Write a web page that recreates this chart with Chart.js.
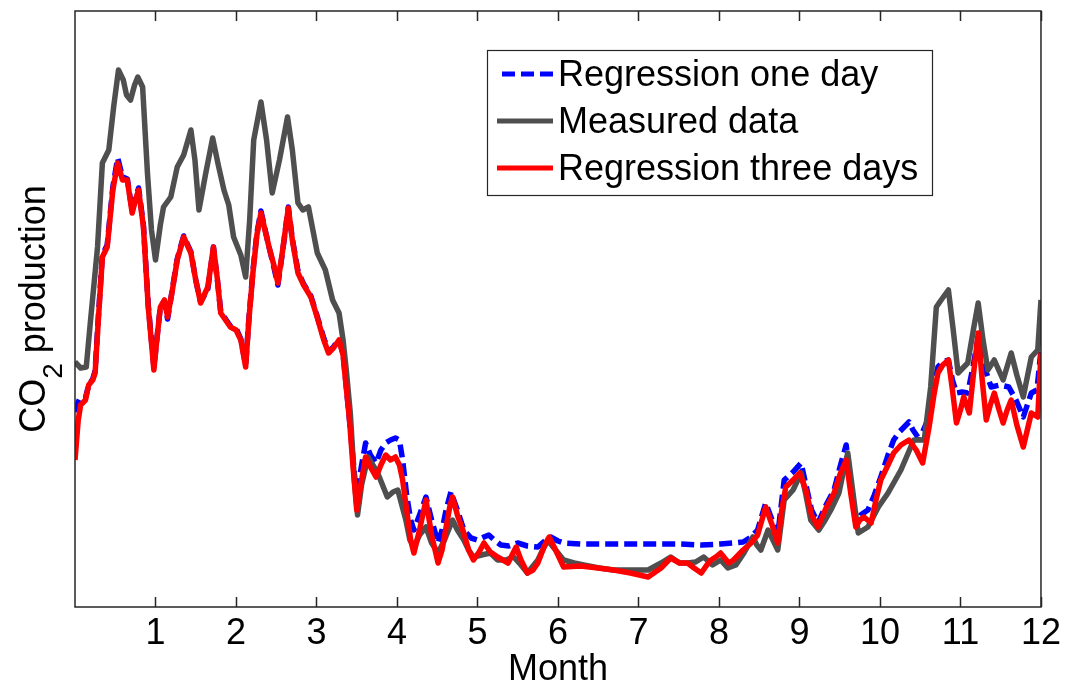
<!DOCTYPE html>
<html>
<head>
<meta charset="utf-8">
<script src="https://cdn.jsdelivr.net/npm/chart.js@4.4.1/dist/chart.umd.min.js"></script>
<style>
html,body{margin:0;padding:0;background:#fff;}
canvas{display:block;}
</style>
</head>
<body>
<canvas id="c" width="1066" height="688"></canvas>
<script>
// ---- data (x in months, y in arbitrary CO2 units) ----
const monthTicks = [1,2,3,4,5,6,7,8,9,10,11,12];
const monthTickLabels = ['1','2','3','4','5','6','7','8','9','10','11','12'];
const seriesLabels = ['Regression one day','Measured data','Regression three days'];

const oneDayMonths = [0,0.04,0.07,0.13,0.17,0.22,0.25,0.29,0.34,0.40,0.47,0.53,0.59,0.65,0.71,0.75,0.79,0.85,0.91,0.98,1.01,1.06,1.11,1.15,1.21,1.27,1.35,1.44,1.50,1.56,1.65,1.72,1.77,1.81,1.87,1.93,2.00,2.06,2.12,2.16,2.21,2.26,2.31,2.36,2.41,2.47,2.52,2.58,2.65,2.70,2.77,2.84,2.93,3.00,3.09,3.15,3.21,3.28,3.33,3.36,3.41,3.45,3.50,3.55,3.61,3.67,3.74,3.80,3.86,3.92,3.98,4.03,4.07,4.12,4.17,4.21,4.28,4.36,4.43,4.51,4.56,4.61,4.67,4.75,4.83,4.92,5.00,5.08,5.14,5.21,5.29,5.39,5.50,5.62,5.75,5.82,5.91,6.00,6.07,6.28,6.53,6.78,7.03,7.28,7.53,7.78,8.02,8.18,8.30,8.40,8.48,8.58,8.66,8.73,8.81,8.92,9.02,9.08,9.15,9.23,9.33,9.43,9.50,9.58,9.64,9.70,9.76,9.85,9.93,10.01,10.10,10.17,10.24,10.30,10.36,10.41,10.47,10.53,10.61,10.67,10.72,10.78,10.85,10.90,10.95,11.02,11.09,11.16,11.22,11.29,11.38,11.49,11.60,11.69,11.78,11.83,11.88,11.95,12.00];
const oneDayValues = [195,205,210,209,222,228,236,290,352,362,420,449,430,428,396,408,419,382,302,240,263,300,306,288,318,348,371,355,327,305,318,360,326,296,288,281,279,268,242,288,336,374,396,378,360,340,322,356,400,368,336,323,311,293,269,256,260,268,253,229,187,152,107,137,164,152,144,157,164,167,169,167,147,112,87,77,92,110,87,64,77,97,115,97,77,69,67,70,72,67,62,61,64,61,60,65,70,66,64,63,63,63,63,63,63,62,63,64,65,70,77,104,87,72,127,135,144,122,97,84,102,117,139,162,122,84,92,97,112,130,152,167,175,180,185,177,170,175,190,222,240,245,247,227,214,215,214,242,270,242,220,222,220,207,190,202,214,217,257];

const measuredMonths = [0,0.07,0.14,0.19,0.28,0.34,0.42,0.48,0.54,0.60,0.64,0.69,0.74,0.78,0.84,0.90,0.95,1.00,1.06,1.10,1.19,1.27,1.35,1.44,1.49,1.54,1.62,1.71,1.78,1.85,1.91,1.97,2.06,2.12,2.17,2.22,2.31,2.38,2.45,2.54,2.64,2.70,2.77,2.83,2.90,3.01,3.11,3.20,3.28,3.33,3.37,3.42,3.47,3.51,3.56,3.64,3.70,3.76,3.82,3.88,3.95,4.01,4.06,4.11,4.16,4.21,4.28,4.36,4.43,4.51,4.59,4.69,4.75,4.83,4.89,4.95,5.05,5.16,5.25,5.35,5.45,5.54,5.62,5.75,5.87,5.97,6.07,6.20,6.32,6.51,6.69,6.90,7.12,7.28,7.40,7.51,7.61,7.71,7.81,7.92,8.02,8.11,8.21,8.31,8.42,8.47,8.52,8.61,8.67,8.73,8.81,8.92,9.02,9.08,9.14,9.24,9.32,9.39,9.49,9.55,9.60,9.66,9.73,9.79,9.85,9.98,10.10,10.26,10.42,10.55,10.63,10.70,10.76,10.85,10.91,10.97,11.03,11.09,11.16,11.22,11.28,11.34,11.42,11.53,11.63,11.70,11.78,11.88,11.96,12.00];
const measuredValues = [245,239,240,284,360,444,457,500,537,527,512,507,522,530,520,434,377,347,382,400,410,440,452,477,447,397,432,469,442,417,402,370,352,330,387,467,505,467,414,447,490,457,404,397,400,354,337,307,294,267,237,194,127,92,122,150,142,134,122,110,115,117,102,87,67,60,72,80,64,54,67,87,77,67,57,50,52,54,47,47,50,42,34,47,67,57,47,44,42,39,37,37,37,44,50,44,44,45,50,42,47,39,42,54,70,62,57,77,67,57,107,117,134,112,87,77,87,97,114,137,154,117,74,77,80,100,114,137,167,167,220,300,307,317,277,234,239,244,277,304,267,237,247,227,254,232,210,250,257,307];

const threeDayMonths = [0,0.04,0.07,0.13,0.17,0.22,0.25,0.29,0.34,0.40,0.47,0.53,0.59,0.65,0.71,0.75,0.79,0.85,0.91,0.98,1.01,1.06,1.11,1.15,1.21,1.27,1.35,1.44,1.50,1.56,1.65,1.72,1.77,1.81,1.87,1.93,2.00,2.06,2.12,2.16,2.21,2.26,2.31,2.36,2.41,2.47,2.52,2.58,2.65,2.70,2.77,2.84,2.93,3.00,3.09,3.15,3.21,3.28,3.33,3.36,3.41,3.45,3.50,3.55,3.61,3.67,3.74,3.80,3.86,3.92,3.98,4.03,4.07,4.12,4.17,4.21,4.28,4.36,4.43,4.51,4.56,4.61,4.66,4.69,4.75,4.83,4.89,4.95,5.02,5.08,5.16,5.25,5.38,5.43,5.48,5.54,5.62,5.69,5.75,5.82,5.89,5.97,6.07,6.28,6.50,6.69,6.90,7.12,7.28,7.40,7.51,7.61,7.69,7.78,7.84,7.90,7.96,8.02,8.12,8.18,8.30,8.40,8.48,8.58,8.66,8.73,8.78,8.83,8.92,9.00,9.08,9.15,9.23,9.33,9.43,9.50,9.58,9.64,9.70,9.75,9.80,9.89,9.95,10.01,10.10,10.17,10.26,10.36,10.45,10.53,10.61,10.67,10.72,10.78,10.85,10.90,10.95,11.00,11.04,11.11,11.16,11.22,11.27,11.32,11.37,11.42,11.48,11.53,11.58,11.63,11.70,11.78,11.83,11.88,11.96,12.00];
const threeDayValues = [147,187,202,207,222,227,234,287,350,360,417,444,427,427,394,407,417,380,300,237,262,300,307,290,317,347,370,354,327,304,320,360,327,294,287,280,277,267,240,287,334,372,394,377,360,342,324,357,399,367,334,322,310,292,267,254,259,267,252,227,187,144,97,122,150,140,130,142,152,147,150,142,127,97,67,54,77,107,72,44,57,80,102,110,92,74,57,47,55,64,55,50,44,52,60,47,34,37,44,59,70,57,40,41,39,37,34,30,39,49,44,44,39,34,41,47,50,54,44,47,57,64,72,100,82,64,97,120,127,134,117,92,80,99,114,132,147,112,80,87,90,84,107,127,142,154,162,167,157,144,180,212,234,242,247,217,184,197,210,194,232,274,227,187,202,214,197,184,197,207,182,160,177,194,190,254];

const seriesColors = ['#0000ff','#4f4f4f','#ff0000'];

function pairs(xs, ys){ return xs.map((x,i)=>({x:x, y:ys[i]})); }

const FONT = '"Liberation Sans", Arial, Helvetica, sans-serif';

// frame + inward ticks (MATLAB style box)
const framePlugin = {
  id:'frame',
  afterDatasetsDraw(chart){
    const {ctx, chartArea:a, scales:{x}} = chart;
    ctx.save();
    ctx.strokeStyle = '#262626';
    ctx.lineWidth = 1.5;
    ctx.beginPath();
    ctx.rect(a.left, a.top, a.right-a.left, a.bottom-a.top);
    ctx.stroke();
    ctx.beginPath();
    monthTicks.forEach(v=>{
      const px = Math.round(x.getPixelForValue(v))+0.5;
      ctx.moveTo(px, a.bottom); ctx.lineTo(px, a.bottom-10);
      ctx.moveTo(px, a.top); ctx.lineTo(px, a.top+10);
    });
    ctx.stroke();
    ctx.restore();
  }
};

// legend box drawn inside the plot, from dataset labels/styles
const boxLegendPlugin = {
  id:'boxLegend',
  afterDraw(chart){
    const ctx = chart.ctx;
    const bx=487, by=50, bw=445, bh=145;
    ctx.save();
    ctx.fillStyle='#fff';
    ctx.fillRect(bx,by,bw,bh);
    ctx.strokeStyle='#262626';
    ctx.lineWidth=1.2;
    ctx.strokeRect(bx+0.5,by+0.5,bw,bh);
    ctx.font = '36px ' + FONT;
    ctx.textBaseline='middle';
    ctx.textAlign='left';
    chart.data.datasets.forEach((ds,i)=>{
      const y = 74 + i*47;
      ctx.strokeStyle = ds.borderColor;
      ctx.lineWidth = 5;
      ctx.setLineDash(ds.borderDash || []);
      ctx.beginPath();
      ctx.moveTo(ds.borderDash ? 502 : 497, y);
      ctx.lineTo(553, y);
      ctx.stroke();
      ctx.setLineDash([]);
      ctx.fillStyle='#000';
      ctx.fillText(ds.label, 558, y+2);
    });
    ctx.restore();
  }
};

// y-axis title with subscript
const yTitlePlugin = {
  id:'yTitle',
  afterDraw(chart){
    const ctx = chart.ctx;
    ctx.save();
    ctx.translate(45, 309);
    ctx.rotate(-Math.PI/2);
    ctx.fillStyle='#000';
    ctx.textBaseline='alphabetic';
    ctx.textAlign='left';
    const big = '36px ' + FONT, small = '28px ' + FONT;
    ctx.font = big;
    const w1 = ctx.measureText('CO').width;
    const w3 = ctx.measureText(' production').width;
    ctx.font = small;
    const w2 = ctx.measureText('2').width;
    let x = -(w1+w2+w3)/2;
    ctx.font = big; ctx.fillText('CO', x, 0); x += w1;
    ctx.font = small; ctx.fillText('2', x, 17); x += w2;
    ctx.font = big; ctx.fillText(' production', x, 0);
    ctx.restore();
  }
};

const lineCommon = {pointRadius:0, borderWidth:5.5, tension:0, fill:false, borderJoinStyle:'round', borderCapStyle:'butt'};

new Chart(document.getElementById('c'), {
  type:'line',
  data:{
    datasets:[
      Object.assign({label:seriesLabels[0], data:pairs(oneDayMonths, oneDayValues), borderColor:seriesColors[0], borderDash:[13,6], order:3}, lineCommon),
      Object.assign({label:seriesLabels[1], data:pairs(measuredMonths, measuredValues), borderColor:seriesColors[1], order:2}, lineCommon),
      Object.assign({label:seriesLabels[2], data:pairs(threeDayMonths, threeDayValues), borderColor:seriesColors[2], order:1}, lineCommon)
    ]
  },
  options:{
    responsive:false,
    animation:false,
    devicePixelRatio:1,
    layout:{padding:{left:75, right:24, top:11, bottom:0}},
    plugins:{legend:{display:false}, tooltip:{enabled:false}, title:{display:false}},
    scales:{
      x:{
        type:'linear', min:0, max:12,
        afterBuildTicks:(s)=>{ s.ticks = monthTicks.map(v=>({value:v})); },
        afterFit:(s)=>{ s.height = 81; },
        ticks:{
          autoSkip:false, maxRotation:0, padding:5, color:'#000',
          font:{family:FONT, size:36},
          callback:(v)=>{ const i = monthTicks.indexOf(v); return i>=0 ? monthTickLabels[i] : ''; }
        },
        grid:{display:false, drawTicks:false},
        border:{display:false},
        title:{display:true, text:'Month', color:'#000', font:{family:FONT, size:36, lineHeight:1}, padding:0}
      },
      y:{display:false, min:0, max:596}
    }
  },
  plugins:[framePlugin, boxLegendPlugin, yTitlePlugin]
});
</script>
</body>
</html>
